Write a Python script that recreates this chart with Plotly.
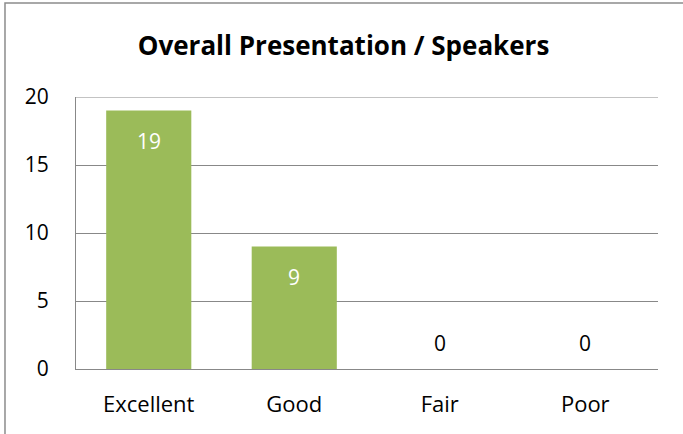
import plotly.graph_objects as go

# Data
categories = ["Excellent", "Good", "Fair", "Poor"]
counts = [19, 9, 0, 0]
y_ticks = [0, 5, 10, 15, 20]

BAR_COLOR = "#9BBB59"
GRID_COLOR = "#888888"
FONT = "Open Sans"

fig = go.Figure()

fig.add_trace(go.Bar(
    x=categories,
    y=counts,
    marker=dict(color=BAR_COLOR, line=dict(width=0)),
    hoverinfo="x+y",
))

# data labels: white inside the bar near top, black above the axis for zeros
for cat, val in zip(categories, counts):
    if val > 0:
        fig.add_annotation(x=cat, y=val, text=str(val), showarrow=False,
                           yanchor="middle", yshift=-30,
                           font=dict(family=FONT, size=21, color="white"))
    else:
        fig.add_annotation(x=cat, y=val, text=str(val), showarrow=False,
                           yanchor="middle", yshift=26,
                           font=dict(family=FONT, size=21, color="black"))

# plotly skips the gridline sitting on the top edge, so draw it by hand
fig.add_shape(type="line", xref="paper", yref="y",
              x0=0, x1=1, y0=y_ticks[-1], y1=y_ticks[-1],
              line=dict(color=GRID_COLOR, width=1), layer="below")

# outer chart border (left/top visible, right/bottom run off the image)
fig.add_shape(type="rect", xref="paper", yref="paper",
              x0=-0.122, x1=1.06, y0=-0.3, y1=1.3456,
              line=dict(color="#8C8C8C", width=1.5), layer="below")

fig.update_layout(
    width=683,
    height=434,
    margin=dict(l=76, r=25, t=97, b=65),
    paper_bgcolor="white",
    plot_bgcolor="white",
    bargap=0.415,
    showlegend=False,
    font=dict(family=FONT, color="black"),
    title=dict(
        text="<b>Overall Presentation / Speakers</b>",
        x=0.503, xref="container", xanchor="center",
        y=1 - 46 / 434, yref="container", yanchor="middle",
        font=dict(family=FONT, size=26, color="black"),
    ),
    xaxis=dict(
        showgrid=False,
        showline=True, linecolor=GRID_COLOR, linewidth=1,
        ticks="",
        tickfont=dict(family=FONT, size=22, color="black"),
        ticklabelstandoff=16,
        fixedrange=True,
    ),
    yaxis=dict(
        range=[0, 20],
        tickvals=y_ticks,
        showgrid=True, gridcolor=GRID_COLOR, gridwidth=1,
        showline=True, linecolor=GRID_COLOR, linewidth=1,
        zeroline=False,
        ticks="",
        tickfont=dict(family=FONT, size=21, color="black"),
        ticklabelstandoff=22,
        fixedrange=True,
    ),
)

# drop the default page margin so the figure sits at the window origin
fig.write_html("out.html", config={"displayModeBar": False},
               post_script="document.body.style.margin='0';")
